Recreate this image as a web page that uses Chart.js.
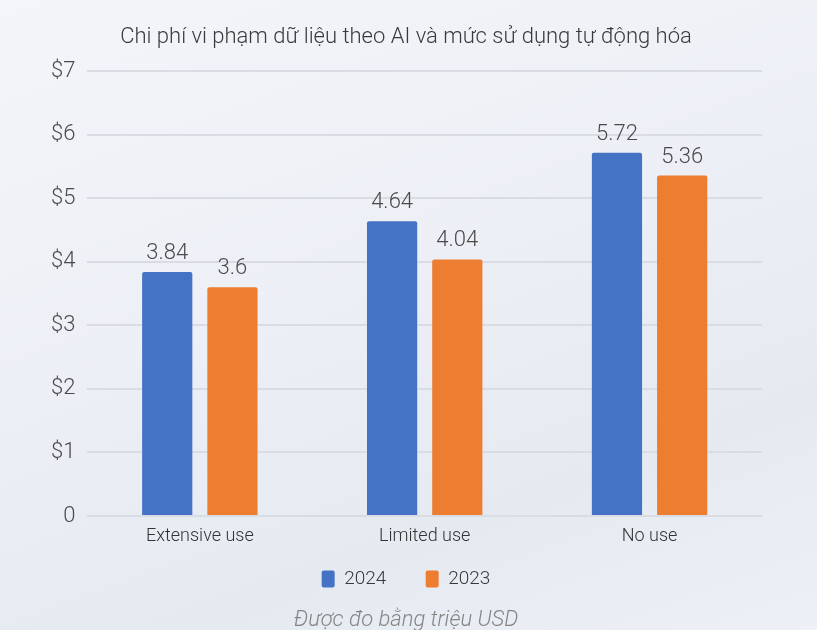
<!DOCTYPE html>
<html>
<head>
<meta charset="utf-8">
<script src="https://cdn.jsdelivr.net/npm/chart.js@4"></script>
<style>
  html, body { margin: 0; padding: 0; }
  body {
    width: 817px; height: 630px; overflow: hidden;
    background: linear-gradient(160deg, #f3f5f9 0%, #eceff5 45%, #e5eaf1 75%, #edf0f6 100%);
  }
  #wrap { position: relative; width: 817px; height: 630px; }
</style>
</head>
<body>
<div id="wrap"><canvas id="chiPhiChart"></canvas></div>
<script>
// Chi phí vi phạm dữ liệu – Chart.js

const labels = ['Extensive use', 'Limited use', 'No use'];
const data2024 = [3.84, 4.64, 5.72];
const data2023 = [3.6, 4.04, 5.36];
const yTicks = [0, 1, 2, 3, 4, 5, 6, 7];

const FONT = 'Roboto, "Open Sans", sans-serif';

// ghi giá trị trên đầu mỗi cột
const nhanGiaTri = {
    id: 'nhanGiaTri',
    afterDatasetsDraw(chart) {
        const ctx = chart.ctx;
        ctx.save();
        ctx.font = '300 22px ' + FONT;
        ctx.fillStyle = '#4a4a4a';
        ctx.textAlign = 'center';
        ctx.textBaseline = 'alphabetic';
        chart.data.datasets.forEach(function (ds, i) {
            chart.getDatasetMeta(i).data.forEach(function (bar, j) {
                ctx.fillText(String(ds.data[j]), bar.x, bar.y - 13);
            });
        });
        ctx.restore();
    }
};

document.addEventListener('DOMContentLoaded', function () {
    const ctx = document.getElementById('chiPhiChart').getContext('2d');

    new Chart(ctx, {
        type: 'bar',
        data: {
            labels: labels,
            datasets: [
                {
                    label: '2024',
                    data: data2024,
                    backgroundColor: '#4472C4',
                    borderRadius: 2,
                    barPercentage: 0.77,
                    categoryPercentage: 0.58
                },
                {
                    label: '2023',
                    data: data2023,
                    backgroundColor: '#ED7D31',
                    borderRadius: 2,
                    barPercentage: 0.77,
                    categoryPercentage: 0.58
                }
            ]
        },
        options: {
            responsive: true,
            maintainAspectRatio: false,
            animation: false,
            layout: { padding: { left: 50, right: 55, top: 24, bottom: -4 } },
            plugins: {
                title: {
                    display: true,
                    text: 'Chi phí vi phạm dữ liệu theo AI và mức sử dụng tự động hóa',
                    color: '#3a3a3a',
                    font: { family: FONT, size: 22, weight: '300' },
                    padding: { top: 0, bottom: 21 }
                },
                legend: {
                    display: true,
                    position: 'bottom',
                    labels: {
                        color: '#3a3a3a',
                        boxWidth: 13,
                        boxHeight: 17,
                        useBorderRadius: true,
                        borderRadius: 2,
                        padding: 20,
                        font: { family: FONT, size: 19, weight: '300' },
                        // thêm khoảng trống sau mục đầu cho rộng như bản gốc
                        generateLabels: function (chart) {
                            const items = Chart.defaults.plugins.legend.labels.generateLabels(chart);
                            items.forEach(function (it, i) {
                                if (i < items.length - 1) it.text = it.text + '\u2003';
                            });
                            return items;
                        }
                    }
                },
                subtitle: {
                    display: true,
                    position: 'bottom',
                    text: 'Được đo bằng triệu USD',
                    color: '#858585',
                    font: { family: FONT, size: 22, style: 'italic', weight: '300' },
                    padding: { top: 9, bottom: 0 }
                },
                tooltip: { enabled: false }
            },
            scales: {
                x: {
                    grid: { display: false },
                    border: { display: false },
                    ticks: { color: '#333', padding: 2, font: { family: FONT, size: 18, weight: '300' } }
                },
                y: {
                    min: 0,
                    max: 7,
                    afterBuildTicks: function (axis) {
                        axis.ticks = yTicks.map(function (v) { return { value: v }; });
                    },
                    afterFit: function (axis) { axis.width -= 11; },
                    grid: { color: '#d9dde3', lineWidth: 2, drawTicks: false },
                    border: { display: false },
                    ticks: {
                        color: '#4a4a4a',
                        padding: 12,
                        font: { family: FONT, size: 22, weight: '300' },
                        callback: function (v) { return v === 0 ? '0' : '$' + v; }
                    }
                }
            }
        },
        plugins: [nhanGiaTri]
    });
});
</script>
</body>
</html>
